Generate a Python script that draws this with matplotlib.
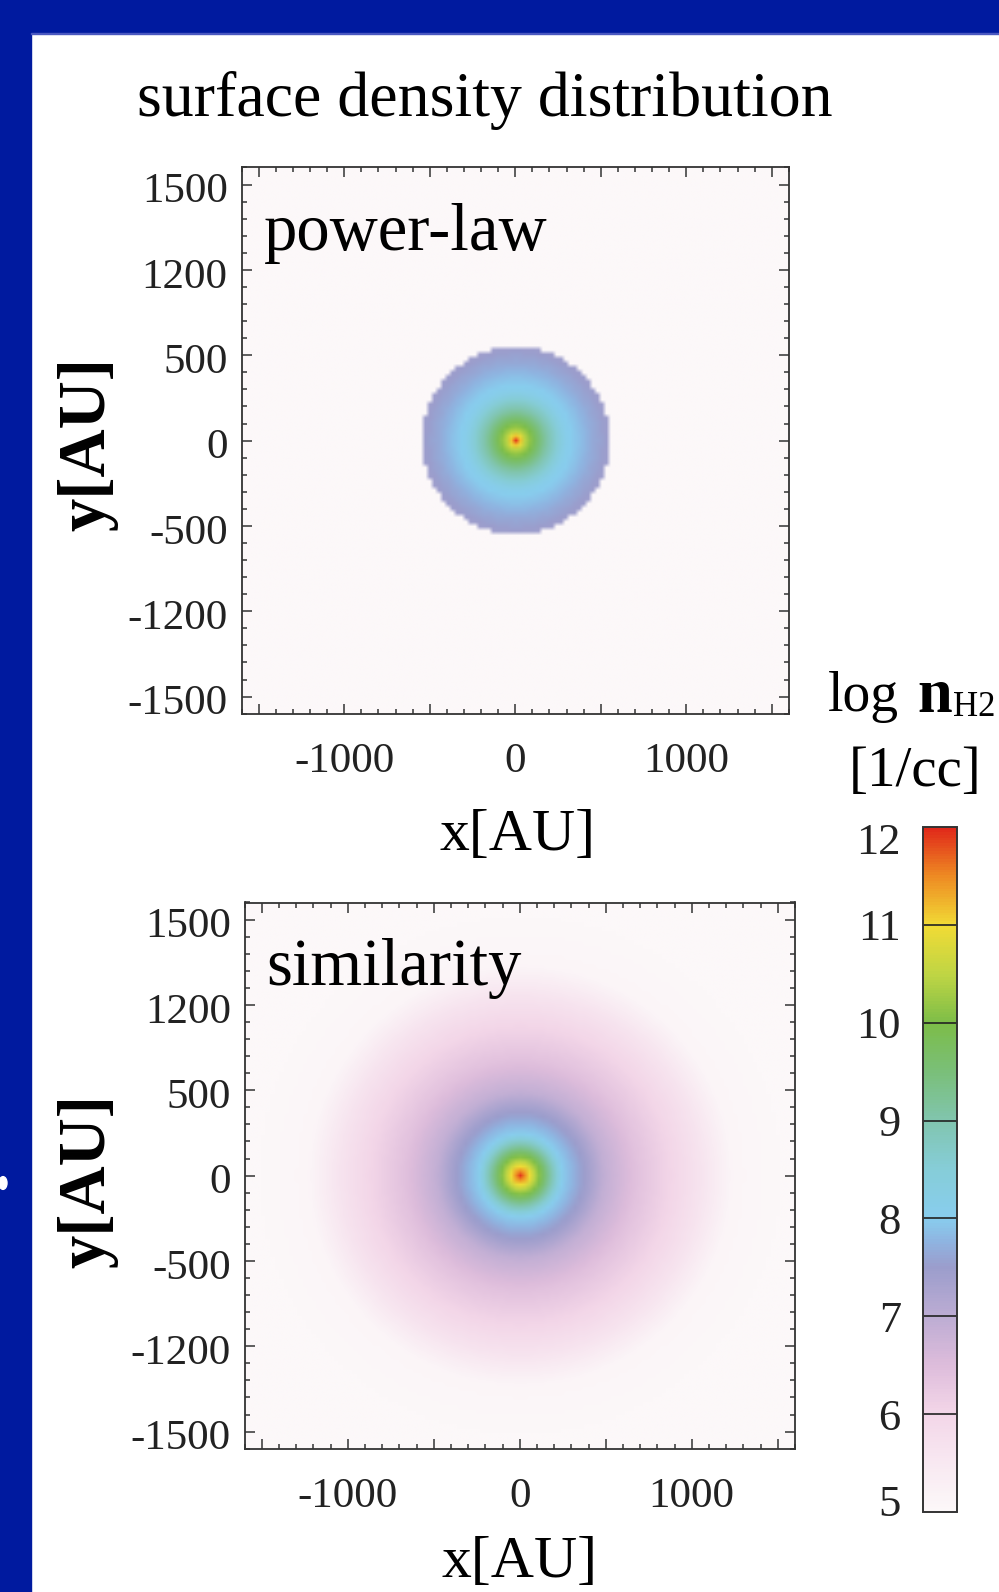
import numpy as np
import matplotlib
matplotlib.use("Agg")
import matplotlib.pyplot as plt
from matplotlib.colors import LinearSegmentedColormap
from matplotlib.patches import Rectangle, Circle
from matplotlib.transforms import ScaledTranslation

plt.rcParams['font.family'] = ['Liberation Serif', 'DejaVu Serif']

# radial profiles of log n_H2
pl_radius_au = [0, 20, 50, 110, 175, 290, 450, 550]
pl_log_n = [11.9, 11.3, 10.5, 9.8, 9.1, 8.1, 7.65, 7.45]
pl_outer_au = 550
sim_radius_au = [0, 30, 80, 145, 245, 390, 490, 675, 880, 1060, 1230, 1600]
sim_log_n = [11.9, 11.4, 10.5, 9.5, 8.0, 7.4, 6.9, 6.4, 6.0, 5.6, 5.1, 5.0]
background_log_n = 5.0

y_tick_vals = [-1500, -1000, -500, 0, 500, 1000, 1500]
y_tick_text = ['-1500', '-1200', '-500', '0', '500', '1200', '1500']
x_tick_vals = [-1500, -1000, -500, 0, 500, 1000, 1500]
x_tick_text = ['', '-1000', '', '0', '', '1000', '']
cbar_ticks = [5, 6, 7, 8, 9, 10, 11, 12]
panel_names = ['power-law', 'similarity']

# colour table of the colorbar
cmap_nodes = [
    (5.0, '#fcf8f9'), (5.5, '#f8e8f1'), (6.0, '#f3d6e8'), (6.5, '#ddbcdb'),
    (7.0, '#bcacd3'), (7.5, '#9b9dcc'), (7.75, '#8fb3e0'), (8.0, '#88cdee'),
    (8.5, '#86cdd8'), (9.0, '#81c5af'), (9.5, '#7abf79'), (10.0, '#7cbd48'),
    (10.5, '#bfd544'), (11.0, '#f1db35'), (11.5, '#ee8c23'), (12.0, '#e0281a'),
]
cmap = LinearSegmentedColormap.from_list(
    'nh2', [((v - 5) / 7, c) for v, c in cmap_nodes])

W, H = 999, 1592
fig = plt.figure(figsize=(W / 100, H / 100), dpi=100)
fig.patch.set_facecolor('white')

blue = '#001a9f'
fig.patches.append(Rectangle((0, 1 - 33 / H), 1, 33 / H, transform=fig.transFigure,
                             color=blue, zorder=0))
fig.patches.append(Rectangle((0, 0), 31 / W, 1, transform=fig.transFigure,
                             color=blue, zorder=0))
fig.patches.append(Rectangle((31 / W, 1 - 34 / H), 1, 1.2 / H, transform=fig.transFigure,
                             color='#4a58c0', zorder=0))
fig.patches.append(Circle((3 / W, 1 - 1183 / H), 4 / W, transform=fig.transFigure,
                          color='white', zorder=1))

n = 121
edge = 1600
c = np.linspace(-edge + edge / n, edge - edge / n, n)
X, Y = np.meshgrid(c, c)
R = np.hypot(X, Y)
pl_map = np.interp(R, pl_radius_au, pl_log_n)
pl_map[R > pl_outer_au] = background_log_n
sim_map = np.interp(R, sim_radius_au, sim_log_n)

ax1 = fig.add_axes([241.6 / W, 1 - 713.7 / H, 547.2 / W, 546.2 / H])
ax2 = fig.add_axes([244.7 / W, 1 - 1448.7 / H, 550.2 / W, 546.2 / H])
cax = fig.add_axes([923 / W, 1 - 1512 / H, 34 / W, 685 / H])

shift_down = ScaledTranslation(0, -3 / 100, fig.dpi_scale_trans)
for ax, field, name in zip([ax1, ax2], [pl_map, sim_map], panel_names):
    im = ax.imshow(field, extent=[-edge, edge, -edge, edge], origin='lower',
                   cmap=cmap, vmin=5, vmax=12, interpolation='bilinear',
                   interpolation_stage='rgba', aspect='auto')
    ax.set_xlim(-edge, edge)
    ax.set_ylim(-edge, edge)
    ax.set_xticks(x_tick_vals)
    ax.set_xticklabels(x_tick_text)
    ax.set_yticks(y_tick_vals)
    ax.set_yticklabels(y_tick_text)
    ax.set_xticks(np.arange(-1600, 1601, 100), minor=True)
    ax.set_yticks(np.arange(-1600, 1601, 100), minor=True)
    ax.tick_params(which='both', direction='in', top=True, right=True,
                   color='#333333', width=1.1)
    ax.tick_params(which='major', length=7)
    ax.tick_params(which='minor', length=3.5)
    ax.tick_params(axis='y', labelsize=31, pad=10, labelcolor='#222222')
    ax.tick_params(axis='x', labelsize=31, pad=21, labelcolor='#222222')
    for lab in ax.get_yticklabels():
        lab.set_transform(lab.get_transform() + shift_down)
    for s in ax.spines.values():
        s.set_linewidth(1.3)
        s.set_color('#333333')
    ax.text(0.04, 0.88, name, transform=ax.transAxes, fontsize=48,
            ha='left', va='center')

fig.text(485 / W, 1 - 101 / H, 'surface density distribution', fontsize=46,
         ha='center', va='center')
fig.text(518 / W, 1 - 836 / H, 'x[AU]', fontsize=43, ha='center', va='center')
fig.text(520 / W, 1 - 1563 / H, 'x[AU]', fontsize=43, ha='center', va='center')
fig.text(88 / W, 1 - 444 / H, 'y[AU]', fontsize=48, fontweight='bold',
         rotation=90, ha='center', va='center')
fig.text(88 / W, 1 - 1181 / H, 'y[AU]', fontsize=48, fontweight='bold',
         rotation=90, ha='center', va='center')

cbar = fig.colorbar(im, cax=cax)
cbar.outline.set_linewidth(1.4)
cbar.outline.set_edgecolor('#333333')
cax.yaxis.set_ticks_position('left')
cax.set_yticks([5.12, 6, 7, 8, 9, 10, 11, 11.88])
cax.set_yticklabels([str(t) for t in cbar_ticks])
cax.tick_params(length=0, labelsize=32, pad=16, labelcolor='#222222')
for v in cbar_ticks[1:-1]:
    cax.axhline(v, color='#222222', lw=1.2)

fig.text(828 / W, 1 - 697 / H, 'log', fontsize=40, ha='left', va='center')
fig.text(917 / W, 1 - 697 / H, 'n', fontsize=45, fontweight='bold',
         ha='left', va='center')
fig.text(953 / W, 1 - 708 / H, 'H2', fontsize=25, ha='left', va='center')
fig.text(849 / W, 1 - 772 / H, '[1/cc]', fontsize=41, ha='left', va='center')

fig.savefig('out.png', dpi=100)
